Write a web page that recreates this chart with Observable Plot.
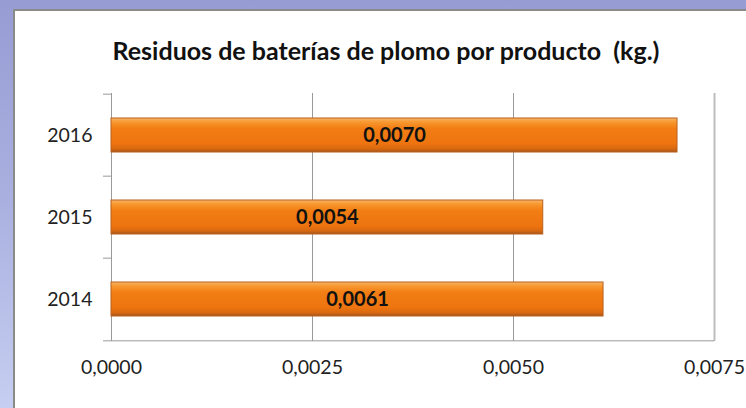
<!DOCTYPE html>
<html>
<head>
<meta charset="utf-8">
<script src="https://cdn.jsdelivr.net/npm/d3@7"></script>
<script src="https://cdn.jsdelivr.net/npm/@observablehq/plot@0.6"></script>
<style>
  html, body { margin: 0; padding: 0; }
  body {
    width: 746px; height: 408px; overflow: hidden; position: relative;
    background: linear-gradient(to bottom, #979cd3 0%, #aab1e0 50%, #c6cef1 100%);
    font-family: Lato, "Open Sans", sans-serif;
  }
  #panel {
    position: absolute; left: 13px; top: 9px; width: 800px; height: 440px;
    background: #fff; border: 2px solid #8a8a8a;
  }
  #title {
    position: absolute; left: 0; top: 35px; width: 772px; text-align: center;
    font-weight: bold; font-size: 25px; line-height: 30px; color: #111; white-space: pre;
  }
  #chart { position: absolute; left: 0; top: 80px; }
</style>
</head>
<body>
<div id="panel"></div>
<div id="title">Residuos de baterías de plomo por producto  (kg.)</div>
<div id="chart"></div>
<script>
const years = ["2016", "2015", "2014"];
const values = [0.00704, 0.00537, 0.00612];
const xTicks = [0, 0.0025, 0.0050, 0.0075];

const data = years.map((y, i) => ({year: y, value: values[i]}));
const fmt = d => d.toFixed(4).replace(".", ",");

const W = 746, H = 328, mt = 13, mb = 67, ml = 111, mr = 32;
const step = (H - mt - mb) / years.length;

const plot = Plot.plot({
  width: W, height: H,
  marginTop: mt, marginBottom: mb, marginLeft: ml, marginRight: mr,
  style: {fontFamily: "Lato, 'Open Sans', sans-serif", background: "transparent"},
  x: {domain: [0, 0.0075], label: null},
  y: {domain: years, paddingInner: 0.58, paddingOuter: 0.29, label: null},
  marks: [
    Plot.ruleX(xTicks.slice(1, 3), {stroke: "#9a9a9a", strokeWidth: 1}),
    Plot.ruleX(xTicks.slice(3), {stroke: "#bdbdbd", strokeWidth: 2}),
    Plot.ruleX([0], {stroke: "#9a9a9a", strokeWidth: 1}),
    Plot.ruleY([years[years.length - 1]], {dy: step / 2, stroke: "#9a9a9a", strokeWidth: 1, insetLeft: -8}),
    Plot.axisY({tickSize: 8, text: null, dy: -step / 2, stroke: "#9a9a9a", strokeOpacity: 1}),
    Plot.axisY({tickSize: 0, tickPadding: 19, fontSize: 19.5, fill: "#222"}),
    Plot.axisX({ticks: xTicks, tickSize: 0, tickPadding: 19, fontSize: 19.5, fill: "#222", tickFormat: fmt}),
    Plot.barX(data, {x: "value", y: "year", fill: "#f07a12", stroke: "#b8611f", strokeWidth: 1}),
    Plot.text(data, {x: d => d.value / 2, y: "year", text: d => fmt(d.value), fontSize: 20, fontWeight: "bold", fill: "#111"})
  ]
});

const svg = d3.select(plot);
const defs = svg.insert("defs", ":first-child");
const g = defs.append("linearGradient").attr("id", "barGrad")
  .attr("x1", 0).attr("y1", 0).attr("x2", 0).attr("y2", 1);
[["0%", "#f9b467"], ["12%", "#f7982f"], ["30%", "#f27e14"], ["75%", "#ee7410"], ["90%", "#d9690f"], ["100%", "#a9561c"]]
  .forEach(([o, c]) => g.append("stop").attr("offset", o).attr("stop-color", c));
svg.selectAll("g[aria-label=bar] rect").attr("fill", "url(#barGrad)");

document.getElementById("chart").appendChild(plot);
</script>
</body>
</html>
